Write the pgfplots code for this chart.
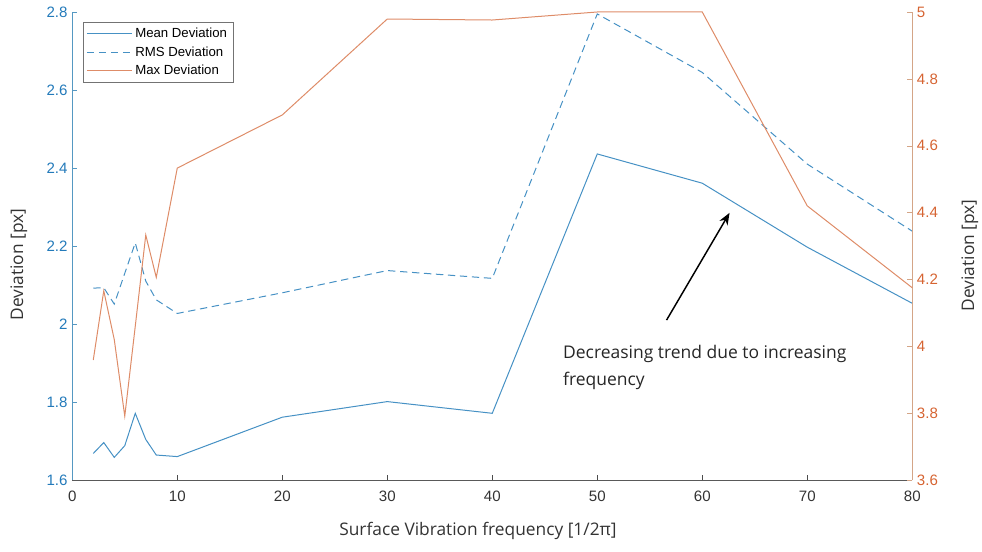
\documentclass[border=0pt]{standalone}
\usepackage{fontspec}
\setmainfont{Liberation Sans}
\newfontfamily\labelfont{Open Sans}
\usepackage{pgfplots}
\pgfplotsset{compat=1.18}
\usetikzlibrary{arrows.meta}

\definecolor{lineblue}{RGB}{70,145,196}
\definecolor{ticksblue}{RGB}{35,122,186}
\definecolor{lineorange}{RGB}{222,140,104}
\definecolor{ticksorange}{RGB}{214,100,50}
\definecolor{raxis}{RGB}{212,165,135}
\definecolor{laxis}{RGB}{85,152,194}

\pgfplotsset{
  devaxis/.style={
    at={(54.2pt,54pt)}, anchor=south west,
    scale only axis, width=630pt, height=351pt,
    xmin=0, xmax=80,
    tick align=inside,
    major tick length=3.75pt,
    /pgf/number format/assume math mode=true,
    ticklabel style={font=\fontsize{11.3}{13}\selectfont},
  },
  meanstyle/.style={draw=lineblue, line width=0.75pt},
  rmsstyle/.style={draw=lineblue, line width=0.75pt, dash pattern=on 5.5pt off 3.5pt},
  maxstyle/.style={draw=lineorange, line width=0.75pt},
}

\begin{document}
\begin{tikzpicture}
\useasboundingbox (0,0) rectangle (736.5pt,414pt);

% left axis: mean and RMS deviation
\begin{axis}[devaxis,
  ymin=1.6, ymax=2.8,
  axis x line*=bottom, axis y line*=left,
  x axis line style={draw=black!65, -},
  y axis line style={draw=laxis, -},
  xtick={0,10,20,30,40,50,60,70,80},
  ytick={1.6,1.8,2,2.2,2.4,2.6,2.8},
  xtick style={draw=black!70},
  ytick style={draw=laxis},
  x tick label style={black!80, yshift=-5pt},
  y tick label style={ticksblue},
  xlabel={\labelfont Surface Vibration frequency [1/2π]},
  ylabel={\labelfont Deviation [px]},
  x label style={at={(axis description cs:0.483,-0.109)}, anchor=center, font=\fontsize{13}{15}\selectfont, black!80},
  y label style={at={(axis description cs:-0.0635,0.46)}, anchor=center, rotate=0, font=\fontsize{13}{15}\selectfont, black!80},
  legend cell align=left,
  legend style={at={(0.0124,0.979)}, anchor=north west, draw=black!55, fill=white,
    font=\fontsize{9.9}{11}\selectfont, inner xsep=2.5pt, inner ysep=2.5pt,
    row sep=1.2pt},
  legend image code/.code={\draw[#1] (0pt,0pt) -- (34pt,0pt);},
]
\addlegendimage{meanstyle}
\addlegendentry{Mean Deviation}
\addlegendimage{rmsstyle}
\addlegendentry{RMS Deviation}
\addlegendimage{maxstyle}
\addlegendentry{Max Deviation}

\addplot[meanstyle, forget plot] coordinates {
  (2,1.668) (3,1.696) (4,1.658) (5,1.688) (6,1.771) (7,1.704) (8,1.664)
  (10,1.660) (20,1.761) (30,1.801) (40,1.771) (50,2.436) (60,2.361)
  (70,2.197) (80,2.053)
};
\addplot[rmsstyle, forget plot] coordinates {
  (2,2.092) (3,2.093) (4,2.051) (5,2.130) (6,2.208) (7,2.110) (8,2.062)
  (10,2.027) (20,2.080) (30,2.137) (40,2.117) (50,2.795) (60,2.645)
  (70,2.410) (80,2.238)
};

% annotation
\draw[-{Stealth[length=9pt,width=7pt]}, line width=1.1pt, black]
  (axis cs:56.6,2.010) -- (axis cs:62.6,2.285);
\node[anchor=north west, align=left, inner sep=0pt,
  font=\labelfont\fontsize{13.1}{20.3}\selectfont, black!85]
  at (axis cs:46.73,1.946) {Decreasing trend due to increasing\\frequency};
\end{axis}

% right axis: max deviation
\begin{axis}[devaxis,
  ymin=3.6, ymax=5,
  axis x line=none, axis y line*=right,
  y axis line style={draw=raxis, -},
  ytick={3.6,3.8,4,4.2,4.4,4.6,4.8,5},
  ytick style={draw=raxis},
  y tick label style={ticksorange},
  ylabel={\labelfont Deviation [px]},
  y label style={at={(axis description cs:1.0687,0.48)}, anchor=center, rotate=0, font=\fontsize{13}{15}\selectfont, black!80},
]
\addplot[maxstyle] coordinates {
  (2,3.959) (3,4.166) (4,4.020) (5,3.791) (6,4.060) (7,4.333) (8,4.206)
  (10,4.533) (20,4.692) (30,4.979) (40,4.976) (50,5.0) (60,5.0)
  (70,4.420) (80,4.175)
};
\end{axis}
\end{tikzpicture}
\end{document}
